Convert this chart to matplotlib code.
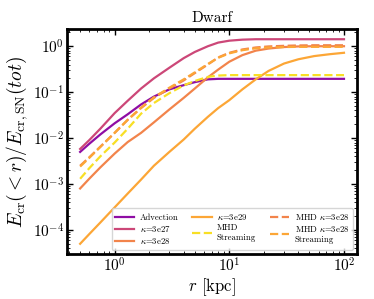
import matplotlib
matplotlib.use('Agg')
import matplotlib.pyplot as plt
from matplotlib import cm

plt.rcParams['mathtext.fontset'] = 'cm'
plt.rcParams['font.family'] = 'serif'
plt.rcParams['font.serif'] = ['cmr10', 'DejaVu Serif']
plt.rcParams['axes.unicode_minus'] = False
plt.rcParams['axes.formatter.use_mathtext'] = True

# radius grid [kpc]
r = [0.5, 0.6, 0.75, 1.0, 1.3, 1.7, 2.2, 3, 4, 5, 6.5, 8, 10, 13, 17, 22, 30, 40, 55, 75, 100]

advection = [5.0e-3, 7.5e-3, 0.012, 0.021, 0.033, 0.054, 0.080, 0.115, 0.142, 0.165, 0.19, 0.195,
             0.195, 0.195, 0.195, 0.195, 0.195, 0.195, 0.195, 0.195, 0.195]
kappa_3e27 = [5.8e-3, 9e-3, 0.016, 0.035, 0.065, 0.12, 0.20, 0.34, 0.55, 0.75, 1.0, 1.2,
              1.32, 1.39, 1.42, 1.42, 1.42, 1.42, 1.42, 1.42, 1.42]
kappa_3e28 = [8e-4, 1.3e-3, 2.3e-3, 4.6e-3, 8.2e-3, 0.013, 0.022, 0.042, 0.075, 0.12, 0.21, 0.31,
              0.46, 0.64, 0.80, 0.89, 0.96, 0.99, 1.0, 1.0, 1.0]
kappa_3e29 = [5e-5, 8.1e-5, 1.45e-4, 3.1e-4, 6.2e-4, 1.25e-3, 2.5e-3, 5.0e-3, 9.3e-3, 0.016, 0.029, 0.045,
              0.067, 0.115, 0.19, 0.29, 0.42, 0.52, 0.61, 0.67, 0.72]
mhd_streaming = [1.3e-3, 2.2e-3, 4e-3, 8e-3, 0.016, 0.034, 0.058, 0.095, 0.14, 0.175, 0.215, 0.23,
                 0.235, 0.235, 0.235, 0.235, 0.235, 0.235, 0.235, 0.235, 0.235]
mhd_kappa = [2.5e-3, 3.8e-3, 6.5e-3, 0.013, 0.025, 0.045, 0.075, 0.12, 0.18, 0.26, 0.40, 0.57,
             0.72, 0.85, 0.94, 0.99, 1.02, 1.04, 1.05, 1.05, 1.05]
mhd_kappa_streaming = [2.4e-3, 3.7e-3, 6.4e-3, 0.013, 0.025, 0.046, 0.077, 0.125, 0.19, 0.27, 0.41, 0.56,
                       0.70, 0.82, 0.90, 0.94, 0.96, 0.97, 0.97, 0.97, 0.97]

fig = plt.figure(figsize=(3.74, 2.99), dpi=100)
ax = fig.add_axes([0.179, 0.1505, 0.776, 0.7525])

lw = 1.6
ax.plot(r, advection, color=cm.plasma(0.3), lw=lw, label='Advection')
ax.plot(r, kappa_3e27, color=cm.plasma(0.5), lw=lw, label=r'$\kappa$=3e27')
ax.plot(r, kappa_3e28, color=cm.plasma(0.7), lw=lw, label=r'$\kappa$=3e28')
ax.plot(r, kappa_3e29, color=cm.plasma(0.8), lw=lw, label=r'$\kappa$=3e29')
ax.plot(r, mhd_streaming, color=cm.plasma(0.94), lw=lw, ls='--', label='MHD\nStreaming')
ax.plot(r, mhd_kappa, color=cm.plasma(0.7), lw=lw, ls='--', label=r'MHD $\kappa$=3e28')
ax.plot(r, mhd_kappa_streaming, color=cm.plasma(0.8), lw=lw, ls='--', label='MHD $\\kappa$=3e28\nStreaming')

ax.set_xscale('log')
ax.set_yscale('log')
ax.set_title('Dwarf', fontsize=11, pad=5)
ax.set_xlabel(r'$r$ [kpc]', fontsize=12, labelpad=1)
ax.set_ylabel(r'$E_{\rm cr}(<r)/E_{\rm cr,SN}(tot)$', fontsize=14, labelpad=2)

for s in ax.spines.values():
    s.set_linewidth(2)
ax.tick_params(which='both', direction='in', top=True, right=True, labelsize=11, pad=2)
ax.tick_params(which='major', length=4, width=1)
ax.tick_params(which='minor', length=2, width=0.6)

ax.legend(loc='lower right', ncol=3, fontsize=6.3, handlelength=2.2, columnspacing=1.6,
          labelspacing=0.25, borderpad=0.4, handletextpad=0.6)

fig.savefig('out.png', dpi=100)
